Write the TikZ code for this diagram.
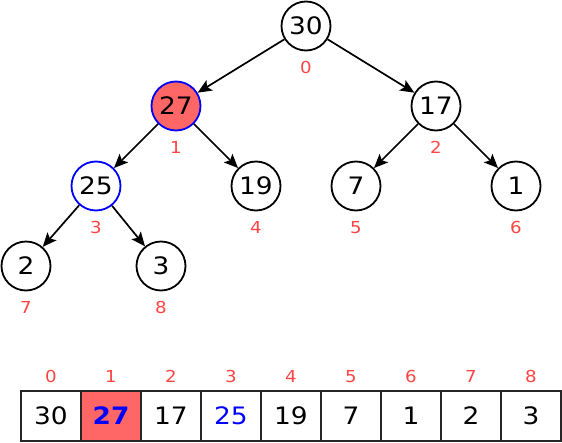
\documentclass[tikz,border=0pt]{standalone}
\usepackage{fontspec}
\setmainfont[FakeStretch=1.1]{DejaVu Sans}
\usetikzlibrary{arrows.meta}
\definecolor{idxred}{RGB}{255,68,68}
\definecolor{hotfill}{RGB}{255,102,102}
\begin{document}
\begin{tikzpicture}[x=1pt, y=-1pt,
  heapnode/.style={circle, draw, line width=1.8pt, minimum size=49pt, inner sep=0pt,
    font=\fontsize{24}{28}\selectfont},
  idx/.style={text=idxred, inner sep=0pt, label distance=9.5pt,
    font=\fontsize{16.5}{19}\selectfont},
  cell/.style={draw=black!85, line width=1.8pt, minimum width=60pt, minimum height=50pt,
    inner sep=0pt, font=\fontsize{24}{28}\selectfont},
  edge/.style={-{Stealth[length=14pt, width=12pt, inset=3pt]}, line width=1.7pt}]
  \useasboundingbox (0,0) rectangle (562,442);

  % Heap as a tree
  \node[heapnode, label={[idx]below:0}] (n0) at (306,26) {30};
  \node[heapnode, draw=blue, fill=hotfill, label={[idx]below:1}] (n1) at (176,106) {27};
  \node[heapnode, label={[idx]below:2}] (n2) at (436,106) {17};
  \node[heapnode, draw=blue, label={[idx]below:3}] (n3) at (96,186) {25};
  \node[heapnode, label={[idx]below:4}] (n4) at (256,186) {19};
  \node[heapnode, label={[idx]below:5}] (n5) at (356,186) {7};
  \node[heapnode, label={[idx]below:6}] (n6) at (516,186) {1};
  \node[heapnode, label={[idx]below:7}] (n7) at (26,266) {2};
  \node[heapnode, label={[idx]below:8}] (n8) at (161,266) {3};

  % Parent to child arrows
  \draw[edge] (n0) -- (n1);
  \draw[edge] (n0) -- (n2);
  \draw[edge] (n1) -- (n3);
  \draw[edge] (n1) -- (n4);
  \draw[edge] (n2) -- (n5);
  \draw[edge] (n2) -- (n6);
  \draw[edge] (n3) -- (n7);
  \draw[edge] (n3) -- (n8);

  % Heap as an array
  \node[cell, label={[idx, label distance=7pt]above:0}] (a0) at (51,416) {30};
  \node[cell, fill=hotfill, text=blue, label={[idx, label distance=7pt]above:1}] (a1) at (111,416) {\textbf{27}};
  \node[cell, label={[idx, label distance=7pt]above:2}] (a2) at (171,416) {17};
  \node[cell, text=blue, label={[idx, label distance=7pt]above:3}] (a3) at (231,416) {25};
  \node[cell, label={[idx, label distance=7pt]above:4}] (a4) at (291,416) {19};
  \node[cell, label={[idx, label distance=7pt]above:5}] (a5) at (351,416) {7};
  \node[cell, label={[idx, label distance=7pt]above:6}] (a6) at (411,416) {1};
  \node[cell, label={[idx, label distance=7pt]above:7}] (a7) at (471,416) {2};
  \node[cell, label={[idx, label distance=7pt]above:8}] (a8) at (531,416) {3};
\end{tikzpicture}
\end{document}
